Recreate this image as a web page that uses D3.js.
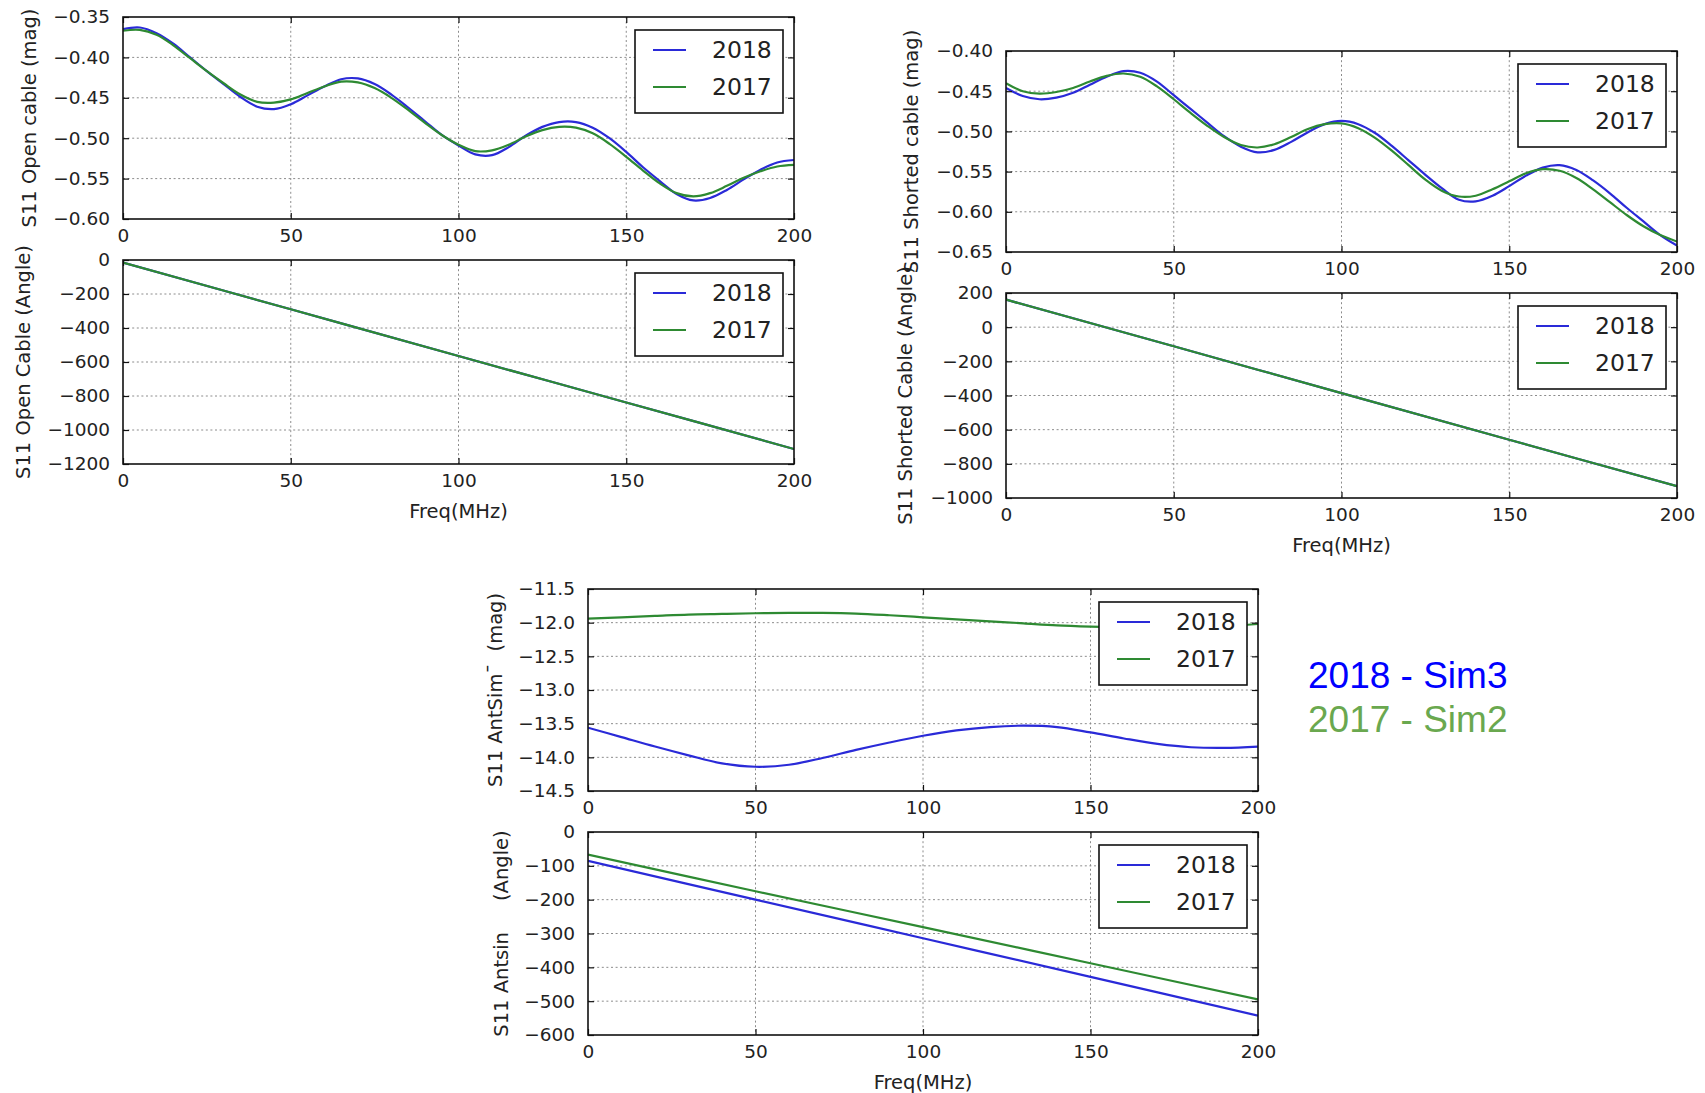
<!DOCTYPE html>
<html>
<head>
<meta charset="utf-8">
<script src="https://cdn.jsdelivr.net/npm/d3@7"></script>
<style>
  body { margin: 0; background: #ffffff; }
  svg text { font-family: "DejaVu Sans", sans-serif; fill: #222; }
  svg text.note { font-family: "Liberation Sans", Arial, sans-serif; }
</style>
</head>
<body>
<svg id="fig" width="1705" height="1093"></svg>
<script>
// ---------- frequency grids (MHz) ----------
const freq5 = [0, 5, 10, 15, 20, 25, 30, 35, 40, 45, 50, 55, 60, 65, 70, 75, 80, 85, 90, 95, 100,
               105, 110, 115, 120, 125, 130, 135, 140, 145, 150, 155, 160, 165, 170, 175, 180, 185, 190, 195, 200];
const freq10 = [0, 10, 20, 30, 40, 50, 60, 70, 80, 90, 100, 110, 120, 130, 140, 150, 160, 170, 180, 190, 200];
const freq50 = [0, 50, 100, 150, 200];

// ---------- series labels ----------
const seriesNames = ["2018", "2017"];
const seriesColors = ["#2a2ad8", "#2e8a32"];

// ---------- open cable ----------
const openMag2018 = [-0.365, -0.363, -0.370, -0.383, -0.400, -0.417, -0.433, -0.449, -0.461, -0.464, -0.458,
                     -0.447, -0.436, -0.427, -0.426, -0.433, -0.446, -0.462, -0.479, -0.496, -0.509,
                     -0.520, -0.521, -0.511, -0.497, -0.486, -0.480, -0.480, -0.487, -0.500, -0.517,
                     -0.536, -0.553, -0.569, -0.577, -0.574, -0.564, -0.551, -0.539, -0.530, -0.527];
const openMag2017 = [-0.367, -0.366, -0.372, -0.385, -0.401, -0.417, -0.432, -0.446, -0.455, -0.456, -0.452,
                     -0.444, -0.436, -0.430, -0.431, -0.438, -0.450, -0.465, -0.481, -0.496, -0.508,
                     -0.516, -0.515, -0.508, -0.498, -0.490, -0.486, -0.487, -0.494, -0.507, -0.523,
                     -0.540, -0.556, -0.568, -0.572, -0.568, -0.559, -0.549, -0.541, -0.535, -0.533];
const openAngle2018 = [-15, -290, -565, -838, -1112];
const openAngle2017 = [-15, -290, -565, -838, -1112];

// ---------- shorted cable ----------
const shortMag2018 = [-0.446, -0.456, -0.460, -0.458, -0.452, -0.442, -0.432, -0.425, -0.427, -0.438, -0.455,
                      -0.472, -0.489, -0.506, -0.519, -0.526, -0.523, -0.513, -0.501, -0.491, -0.487,
                      -0.491, -0.502, -0.518, -0.536, -0.554, -0.571, -0.585, -0.587, -0.580, -0.568,
                      -0.555, -0.545, -0.542, -0.548, -0.561, -0.577, -0.595, -0.612, -0.629, -0.642];
const shortMag2017 = [-0.440, -0.450, -0.453, -0.451, -0.446, -0.438, -0.431, -0.428, -0.432, -0.444, -0.460,
                      -0.477, -0.493, -0.507, -0.517, -0.520, -0.516, -0.507, -0.497, -0.491, -0.490,
                      -0.496, -0.508, -0.524, -0.542, -0.560, -0.574, -0.581, -0.580, -0.572, -0.562,
                      -0.552, -0.547, -0.549, -0.558, -0.572, -0.588, -0.604, -0.618, -0.629, -0.637];
const shortAngle2018 = [161, -112, -386, -659, -931];
const shortAngle2017 = [161, -112, -386, -659, -931];

// ---------- antenna simulator ----------
const antMag2018 = [-13.56, -13.70, -13.84, -13.97, -14.09, -14.14, -14.11, -14.01, -13.89, -13.78, -13.68,
                    -13.60, -13.55, -13.53, -13.55, -13.63, -13.72, -13.80, -13.85, -13.86, -13.84];
const antMag2017 = [-11.94, -11.92, -11.90, -11.88, -11.87, -11.86, -11.855, -11.855, -11.865, -11.89, -11.92,
                    -11.95, -11.98, -12.01, -12.04, -12.06, -12.075, -12.08, -12.07, -12.05, -12.02];
const antAngle2018 = [-85, -200, -314, -428, -543];
const antAngle2017 = [-67, -175, -281, -388, -495];

// ---------- tick labels ----------
const freqTicks = [0, 50, 100, 150, 200];
const openMagTicks = [-0.60, -0.55, -0.50, -0.45, -0.40, -0.35];
const openAngleTicks = [-1200, -1000, -800, -600, -400, -200, 0];
const shortMagTicks = [-0.65, -0.60, -0.55, -0.50, -0.45, -0.40];
const shortAngleTicks = [-1000, -800, -600, -400, -200, 0, 200];
const antMagTicks = [-14.5, -14.0, -13.5, -13.0, -12.5, -12.0, -11.5];
const antAngleTicks = [-600, -500, -400, -300, -200, -100, 0];

// ---------- side note ----------
const noteLines = ["2018 - Sim3", "2017 - Sim2"];
const noteColors = ["#0000ff", "#6aa84f"];

const NB = "\u00a0";
const panels = [
  { box: [123, 794, 17, 219], freq: freq5, series: [openMag2018, openMag2017],
    ticks: openMagTicks, fmt: d3.format(".2f"), ylabel: "S11 Open cable (mag)", ylx: 29, xlabel: null },
  { box: [123, 794, 260, 464], freq: freq50, series: [openAngle2018, openAngle2017],
    ticks: openAngleTicks, fmt: d3.format("d"), ylabel: "S11 Open Cable (Angle)", ylx: 23, xlabel: "Freq(MHz)" },
  { box: [1006, 1677, 51, 252], freq: freq5, series: [shortMag2018, shortMag2017],
    ticks: shortMagTicks, fmt: d3.format(".2f"), ylabel: "S11 Shorted cable (mag)", ylx: 911, xlabel: null },
  { box: [1006, 1677, 293, 498], freq: freq50, series: [shortAngle2018, shortAngle2017],
    ticks: shortAngleTicks, fmt: d3.format("d"), ylabel: "S11 Shorted Cable (Angle)", ylx: 905, xlabel: "Freq(MHz)" },
  { box: [588, 1258, 589, 791], freq: freq10, series: [antMag2018, antMag2017],
    ticks: antMagTicks, fmt: d3.format(".1f"), ylabel: "S11 AntSim\u00af" + NB + NB + "(mag)", ylx: 495, xlabel: null },
  { box: [588, 1258, 832, 1035], freq: freq50, series: [antAngle2018, antAngle2017],
    ticks: antAngleTicks, fmt: d3.format("d"), ylabel: "S11 Antsin" + NB.repeat(5) + "(Angle)", ylx: 501, xlabel: "Freq(MHz)" }
];

const svg = d3.select("#fig");

panels.forEach((p, i) => {
  const [L, R, T, B] = p.box;
  const x = d3.scaleLinear().domain([0, 200]).range([L, R]);
  const y = d3.scaleLinear().domain(d3.extent(p.ticks)).range([B, T]);
  const g = svg.append("g");

  // grid
  const grid = g.append("g").attr("stroke", "#8c8c8c").attr("stroke-width", 1)
    .attr("stroke-dasharray", "2,2.6");
  freqTicks.slice(1, -1).forEach(f => {
    grid.append("line").attr("x1", x(f)).attr("x2", x(f)).attr("y1", T).attr("y2", B);
  });
  p.ticks.slice(1, -1).forEach(v => {
    grid.append("line").attr("x1", L).attr("x2", R).attr("y1", y(v)).attr("y2", y(v));
  });

  // data lines
  const clipId = "clip" + i;
  g.append("clipPath").attr("id", clipId)
    .append("rect").attr("x", L).attr("y", T).attr("width", R - L).attr("height", B - T);
  const line = d3.line().x((d, k) => x(p.freq[k])).y(d => y(d)).curve(d3.curveCatmullRom.alpha(0.5));
  p.series.forEach((s, k) => {
    g.append("path").attr("clip-path", `url(#${clipId})`)
      .attr("d", line(s)).attr("fill", "none")
      .attr("stroke", seriesColors[k]).attr("stroke-width", 2.2);
  });

  // axes: inward ticks on all four sides
  const tickLen = 6;
  g.append("g").attr("transform", `translate(0,${B})`)
    .call(d3.axisBottom(x).tickValues(freqTicks).tickFormat(d3.format("d")).tickSize(-tickLen).tickPadding(10));
  g.append("g").attr("transform", `translate(${L},0)`)
    .call(d3.axisLeft(y).tickValues(p.ticks).tickFormat(p.fmt).tickSize(-tickLen).tickPadding(13));
  g.append("g").attr("transform", `translate(0,${T})`)
    .call(d3.axisTop(x).tickValues(freqTicks).tickFormat("").tickSize(-tickLen));
  g.append("g").attr("transform", `translate(${R},0)`)
    .call(d3.axisRight(y).tickValues(p.ticks).tickFormat("").tickSize(-tickLen));
  g.selectAll(".domain").remove();
  g.selectAll(".tick line").attr("stroke", "#111").attr("stroke-width", 1.2);
  g.selectAll(".tick text").attr("font-size", 18.5).attr("fill", "#222")
    .attr("font-family", "'DejaVu Sans', sans-serif");

  // frame
  g.append("rect").attr("x", L).attr("y", T).attr("width", R - L).attr("height", B - T)
    .attr("fill", "none").attr("stroke", "#111").attr("stroke-width", 1.6);

  // y label
  g.append("text")
    .attr("transform", `translate(${p.ylx},${(T + B) / 2}) rotate(-90)`)
    .attr("text-anchor", "middle").attr("dy", "0.35em")
    .attr("font-size", 19.5).text(p.ylabel);

  // x label
  if (p.xlabel) {
    g.append("text").attr("x", (L + R) / 2).attr("y", B + 54)
      .attr("text-anchor", "middle").attr("font-size", 19.5).text(p.xlabel);
  }

  // legend
  const lw = 148, lh = 83;
  const lg = g.append("g").attr("transform", `translate(${R - 11 - lw},${T + 13})`);
  lg.append("rect").attr("width", lw).attr("height", lh)
    .attr("fill", "#fff").attr("stroke", "#111").attr("stroke-width", 1.6);
  seriesNames.forEach((name, k) => {
    const ry = 20 + k * 37;
    lg.append("line").attr("x1", 18).attr("x2", 51).attr("y1", ry).attr("y2", ry)
      .attr("stroke", seriesColors[k]).attr("stroke-width", 2.2);
    lg.append("text").attr("x", 77).attr("y", ry).attr("dy", "0.36em")
      .attr("font-size", 23.5).text(name);
  });
});

// side note
noteLines.forEach((t, k) => {
  svg.append("text").attr("class", "note").attr("x", 1308).attr("y", 688 + k * 44)
    .attr("font-size", 37).style("fill", noteColors[k]).text(t);
});
</script>
</body>
</html>
